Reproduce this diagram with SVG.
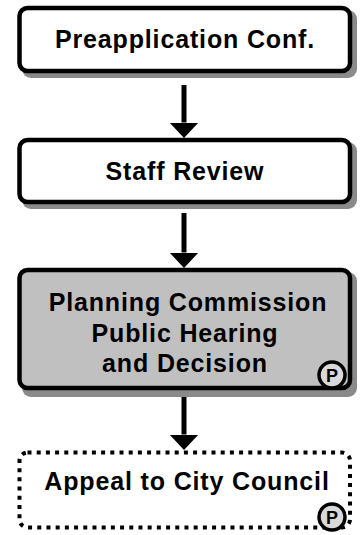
<svg xmlns="http://www.w3.org/2000/svg" width="363" height="535" viewBox="0 0 363 535">
<style>
.shadow{fill:#8a8a8a;stroke:none}
.box{fill:#ffffff;stroke:#000;stroke-width:4.5}
.gray{fill:#c0c0c0}
.dot{fill:#ffffff;stroke:#000;stroke-width:4;stroke-dasharray:4 5.2}
.lbl{font-family:"Liberation Sans",Arial,sans-serif;font-weight:bold;font-size:25px;letter-spacing:0.85px;text-anchor:middle;fill:#000}
.pc{fill:#d9d9d9;stroke:#000;stroke-width:3.5}
.pt{font-family:"Liberation Sans",Arial,sans-serif;font-weight:bold;font-size:18px;text-anchor:middle;fill:#000}
.conn{stroke:#000;stroke-width:5;fill:none}
</style>
<defs>
<marker id="ah" markerUnits="userSpaceOnUse" viewBox="0 -15 16 30" refX="0" refY="0" markerWidth="16" markerHeight="30" orient="auto">
<path d="M0,-14.5 L15.5,0 L0,14.5 z" fill="#000"/>
</marker>
</defs>
<g id="connectors">
<line class="conn" x1="184" y1="85" x2="184" y2="122.5" marker-end="url(#ah)"/>
<line class="conn" x1="184" y1="213" x2="184" y2="252.5" marker-end="url(#ah)"/>
<line class="conn" x1="184" y1="397" x2="184" y2="434.5" marker-end="url(#ah)"/>
</g>
<g id="preapp">
<rect class="shadow" x="22" y="10" width="335" height="68" rx="9"/>
<rect class="box" x="19.5" y="8" width="330.5" height="63" rx="8"/>
<text class="lbl" x="185" y="47.5">Preapplication Conf.</text>
</g>
<g id="staff">
<rect class="shadow" x="22" y="142" width="335" height="67" rx="9"/>
<rect class="box" x="19.5" y="140" width="330.5" height="62" rx="8"/>
<text class="lbl" x="185" y="180">Staff Review</text>
</g>
<g id="planning">
<rect class="shadow" x="22" y="272" width="335" height="125" rx="9"/>
<rect class="box gray" x="19.5" y="270" width="330.5" height="118" rx="8"/>
<text class="lbl" x="188" y="311">Planning Commission</text>
<text class="lbl" x="185" y="342">Public Hearing</text>
<text class="lbl" x="185" y="372">and Decision</text>
<circle class="pc" cx="332" cy="375" r="13"/>
<text class="pt" x="332" y="382">P</text>
</g>
<g id="appeal">
<rect class="dot" x="19.5" y="452.5" width="330.5" height="75" rx="8"/>
<text class="lbl" x="187" y="490">Appeal to City Council</text>
<circle class="pc" cx="332" cy="517" r="13"/>
<text class="pt" x="332" y="524">P</text>
</g>
</svg>
